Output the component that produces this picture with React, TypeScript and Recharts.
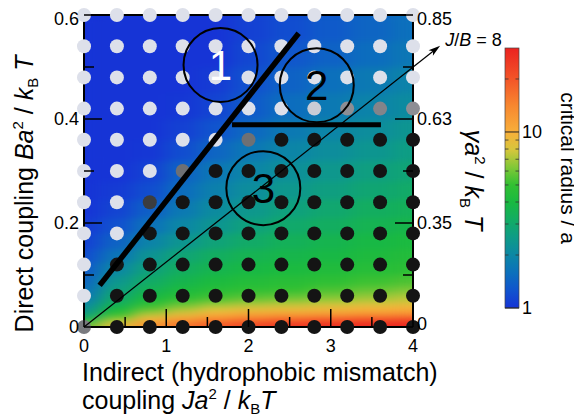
import React from 'react';
import { ScatterChart, Scatter, XAxis, YAxis, ReferenceLine, ReferenceDot, Legend } from 'recharts';

const FONT = '"Liberation Sans", Arial, Helvetica, sans-serif';

// ---------- layout ----------
const CHART_W = 574;
const CHART_H = 409;
const MARGIN = { top: 7, right: 109, bottom: 30, left: 0 };
const LEFT_AXIS_W = 76;
const RIGHT_AXIS_W = 60;
const BOTTOM_AXIS_H = 60;
const J_DOMAIN: [number, number] = [0, 4];
const B_DOMAIN: [number, number] = [0, 0.6];
const PLOT_W = CHART_W - MARGIN.left - MARGIN.right - LEFT_AXIS_W - RIGHT_AXIS_W;
const PLOT_H = CHART_H - MARGIN.top - MARGIN.bottom - BOTTOM_AXIS_H;
const PX_PER_J = PLOT_W / (J_DOMAIN[1] - J_DOMAIN[0]);
const PX_PER_B = PLOT_H / (B_DOMAIN[1] - B_DOMAIN[0]);

// ---------- ticks ----------
const xMajorTicks = [0, 1, 2, 3, 4];
const xTickLabels = ['0', '1', '2', '3', '4'];
const xMinorTicks = [0.5, 1.5, 2.5, 3.5];
const yMajorTicks = [0, 0.2, 0.4, 0.6];
const yTickLabels = ['0', '0.2', '0.4', '0.6'];
const yMinorTicks = [0.1, 0.3, 0.5];
const gammaTickLabels = ['0', '0.35', '0.63', '0.85'];

// ---------- simulation points (J, B) and their order state ----------
const simJ = [0, 0.4, 0.8, 1.2, 1.6, 2.0, 2.4, 2.8, 3.2, 3.6, 4.0];
const simB = [0, 0.06, 0.12, 0.18, 0.24, 0.3, 0.36, 0.42, 0.48, 0.54, 0.6];
// 0 = disordered (light), 1 = clustered (dark); rows from B = 0 upward
const orderRows = [
  [0.5, 1, 1, 1, 1, 1, 1, 1, 1, 1, 1],
  [0, 1, 1, 1, 1, 1, 1, 1, 1, 1, 1],
  [0, 1, 1, 1, 1, 1, 1, 1, 1, 1, 1],
  [0, 0, 1, 1, 1, 1, 1, 1, 1, 1, 1],
  [0, 0, 0.8, 1, 1, 1, 1, 1, 1, 1, 1],
  [0, 0, 0, 0.55, 1, 1, 1, 1, 1, 1, 1],
  [0, 0, 0, 0, 0, 0.55, 1, 1, 1, 1, 1],
  [0, 0, 0, 0, 0, 0, 0, 0.1, 0.4, 0.45, 0.4],
  [0, 0, 0, 0, 0, 0, 0, 0, 0, 0, 0],
  [0, 0, 0, 0, 0, 0, 0, 0, 0, 0, 0],
  [0, 0, 0, 0, 0, 0, 0, 0, 0, 0, 0],
];

// ---------- critical radius field ----------
const heatJEdges = [0, 0.2, 0.6, 1.0, 1.4, 1.8, 2.25, 2.75, 3.25, 3.75, 4];
const heatBEdges = [0, 0.01, 0.02, 0.03, 0.04, 0.05, 0.065, 0.08, 0.1, 0.125, 0.15, 0.18, 0.21, 0.245, 0.28, 0.32, 0.36, 0.4, 0.45, 0.5, 0.55, 0.6];
// rows from B = 0 upward, columns along J
const heatRadius = [
  [6.03, 8.91, 12.6, 16.6, 20.0, 23.4, 26.3, 28.2, 29.5, 30.2],
  [3.55, 6.76, 9.77, 12.0, 14.1, 15.8, 17.4, 18.6, 20.0, 21.4],
  [2.63, 5.01, 7.24, 8.71, 10.0, 11.0, 11.5, 12.0, 12.6, 13.2],
  [2.24, 3.98, 5.62, 6.92, 7.94, 8.51, 8.91, 9.33, 9.77, 10.2],
  [2.0, 3.39, 4.79, 5.75, 6.61, 7.08, 7.41, 7.76, 8.13, 8.51],
  [1.74, 2.95, 3.98, 4.68, 5.25, 5.62, 5.89, 6.31, 6.76, 7.24],
  [1.58, 2.63, 3.47, 4.07, 4.47, 4.79, 5.01, 5.37, 5.75, 6.17],
  [1.45, 2.34, 3.09, 3.63, 4.07, 4.37, 4.57, 4.79, 5.13, 5.37],
  [1.32, 2.0, 2.69, 3.24, 3.63, 3.89, 4.07, 4.27, 4.47, 4.68],
  [1.2, 1.66, 2.29, 2.82, 3.24, 3.55, 3.72, 3.89, 4.17, 4.37],
  [1.1, 1.41, 1.91, 2.34, 2.75, 3.09, 3.39, 3.63, 3.89, 4.07],
  [1.05, 1.23, 1.62, 2.0, 2.34, 2.69, 3.02, 3.24, 3.55, 3.72],
  [1.0, 1.12, 1.38, 1.74, 2.09, 2.4, 2.69, 2.95, 3.24, 3.39],
  [1.0, 1.05, 1.2, 1.55, 1.86, 2.14, 2.4, 2.63, 2.88, 3.09],
  [1.0, 1.0, 1.1, 1.41, 1.7, 1.95, 2.19, 2.4, 2.63, 2.82],
  [1.0, 1.0, 1.02, 1.2, 1.45, 1.7, 1.95, 2.14, 2.34, 2.57],
  [1.0, 1.0, 1.0, 1.1, 1.26, 1.48, 1.74, 1.95, 2.14, 2.34],
  [1.0, 1.0, 1.0, 1.02, 1.12, 1.32, 1.55, 1.74, 1.91, 2.09],
  [1.0, 1.0, 1.0, 1.0, 1.05, 1.23, 1.41, 1.58, 1.74, 1.91],
  [1.0, 1.0, 1.0, 1.0, 1.0, 1.15, 1.29, 1.41, 1.55, 1.7],
  [1.0, 1.0, 1.0, 1.0, 1.0, 1.1, 1.2, 1.32, 1.45, 1.58],
];

// ---------- colour bar ----------
const cbMax = 30;
const cbMajor = [1, 10];
const cbLabels = ['1', '10'];
const cbMinor = [2, 3, 4, 5, 6, 7, 8, 9, 20];
const cbTitle = 'critical radius / a';

// ---------- annotations ----------
const regionNames = ['1', '2', '3'];
const regionJ = [1.66, 2.83, 2.18];
const regionB = [0.504, 0.465, 0.267];
const boundaryDiagJ = [0.19, 2.61];
const boundaryDiagB = [0.08, 0.565];
const boundaryFlatJ = [1.8, 3.61];
const boundaryFlatB = [0.389, 0.389];
const ratioLineJ = [0, 4.33];
const ratioLineB = [0, 0.541];

// ---------- styling helpers ----------
const CMAP: [number, number[]][] = [
  [0.0, [22, 52, 214]],
  [0.1, [16, 84, 206]],
  [0.2, [12, 112, 188]],
  [0.3, [12, 135, 165]],
  [0.4, [14, 155, 135]],
  [0.5, [18, 172, 100]],
  [0.6, [25, 185, 65]],
  [0.7, [50, 192, 50]],
  [0.8, [130, 200, 55]],
  [0.9, [215, 198, 60]],
  [1.0, [248, 175, 58]],
  [1.15, [247, 135, 48]],
  [1.3, [243, 85, 40]],
  [1.48, [235, 35, 32]],
];
const LMAX = Math.log10(cbMax);
function radiusColor(r: number) {
  const L = Math.log10(r);
  if (L <= CMAP[0][0]) return `rgb(${CMAP[0][1].join(',')})`;
  for (let i = 0; i < CMAP.length - 1; i++) {
    const [a, ca] = CMAP[i];
    const [b, cb] = CMAP[i + 1];
    if (L <= b) {
      const t = (L - a) / (b - a);
      const c = ca.map((v, k) => Math.round(v + (cb[k] - v) * t));
      return `rgb(${c.join(',')})`;
    }
  }
  return `rgb(${CMAP[CMAP.length - 1][1].join(',')})`;
}
const LIGHT = [221, 224, 234];
const DARK = [20, 20, 20];
function orderColor(p: number) {
  const c = LIGHT.map((v, k) => Math.round(v + (DARK[k] - v) * p));
  return `rgb(${c.join(',')})`;
}

// ---------- derived datasets ----------
const heatCells: any[] = [];
for (let i = 0; i < heatBEdges.length - 1; i++) {
  for (let k = 0; k < heatJEdges.length - 1; k++) {
    const j0 = heatJEdges[k], j1 = heatJEdges[k + 1];
    const b0 = heatBEdges[i], b1 = heatBEdges[i + 1];
    heatCells.push({ x: (j0 + j1) / 2, y: (b0 + b1) / 2, j0, j1, b0, b1, r: heatRadius[i][k] });
  }
}
const simPoints = simB.flatMap((b, i) => simJ.map((j, k) => ({ x: j, y: b, order: orderRows[i][k] })));

// ---------- shapes ----------
const HeatCell = (p: any) => {
  const d = p.payload;
  const x = p.cx - (d.x - d.j0) * PX_PER_J;
  const w = (d.j1 - d.j0) * PX_PER_J;
  const y = p.cy - (d.b1 - d.y) * PX_PER_B;
  const h = (d.b1 - d.b0) * PX_PER_B;
  return <rect className="heat-cell" x={x - 0.3} y={y - 0.3} width={w + 0.6} height={h + 0.6} fill={radiusColor(d.r)} />;
};
const SimDot = (p: any) => <circle cx={p.cx} cy={p.cy} r={7} fill={orderColor(p.payload.order)} />;

const ArrowShape = (p: any) => {
  const { x1, y1, x2, y2 } = p;
  const ang = Math.atan2(y2 - y1, x2 - x1);
  const len = 12, half = 3.5;
  const cos = Math.cos(ang), sin = Math.sin(ang);
  const bx = x2 - len * cos, by = y2 - len * sin;
  const nx = -sin * half, ny = cos * half;
  const ix = x2 - len * 0.75 * cos, iy = y2 - len * 0.75 * sin;
  return (
    <g>
      <line x1={x1} y1={y1} x2={ix} y2={iy} stroke="#000" strokeWidth={1.2} />
      <path d={`M${x2},${y2} L${bx + nx},${by + ny} L${ix},${iy} L${bx - nx},${by - ny} Z`} fill="#000" />
      <text x={x2 + 5} y={y2 + 0.5} fontSize={18} fontFamily={FONT} fill="#000">
        <tspan fontStyle="italic">J</tspan>/<tspan fontStyle="italic">B</tspan>{' = 8'}
      </text>
    </g>
  );
};

// ---------- ticks ----------
const isIn = (arr: number[], v: number) => arr.findIndex((a) => Math.abs(a - v) < 1e-9);
const BottomTick = (p: any) => {
  const i = isIn(xMajorTicks, p.payload.value);
  const len = i >= 0 ? 18 : 10;
  return (
    <g>
      <line x1={p.x} y1={p.y} x2={p.x} y2={p.y - len} stroke="#000" strokeWidth={1.5} />
      {i >= 0 && (
        <text x={p.x} y={p.y + 25} textAnchor="middle" fontSize={18} fontFamily={FONT} fill="#000">{xTickLabels[i]}</text>
      )}
    </g>
  );
};
const TopTick = (p: any) => {
  const i = isIn(xMajorTicks, p.payload.value);
  const len = i >= 0 ? 18 : 10;
  return <line x1={p.x} y1={p.y} x2={p.x} y2={p.y + len} stroke="#000" strokeWidth={1.5} />;
};
const topShift = (i: number) => (i === yMajorTicks.length - 1 ? 4 : 0);
const LeftTick = (p: any) => {
  const i = isIn(yMajorTicks, p.payload.value);
  const len = i >= 0 ? 18 : 10;
  return (
    <g>
      <line x1={p.x} y1={p.y} x2={p.x + len} y2={p.y} stroke="#000" strokeWidth={1.5} />
      {i >= 0 && (
        <text x={p.x - 5} y={p.y + topShift(i)} dy="0.36em" textAnchor="end" fontSize={18} fontFamily={FONT} fill="#000">{yTickLabels[i]}</text>
      )}
    </g>
  );
};
const RightTick = (p: any) => {
  const i = isIn(yMajorTicks, p.payload.value);
  const len = i >= 0 ? 18 : 10;
  return (
    <g>
      <line x1={p.x} y1={p.y} x2={p.x - len} y2={p.y} stroke="#000" strokeWidth={1.5} />
      {i >= 0 && (
        <text x={p.x + 4} y={p.y + topShift(i) - (i === 0 ? 3 : 0)} dy="0.36em" textAnchor="start" fontSize={18} fontFamily={FONT} fill="#000">{gammaTickLabels[i]}</text>
      )}
    </g>
  );
};

// ---------- axis labels ----------
const SUP = 15;
const LeftLabel = () => {
  const cx = MARGIN.left + 25;
  const cy = MARGIN.top + PLOT_H / 2 + 23;
  return (
    <text transform={`translate(${cx},${cy}) rotate(-90)`} textAnchor="middle" fontSize={25} fontFamily={FONT} fill="#000">
      {'Direct coupling '}
      <tspan fontStyle="italic">Ba</tspan>
      <tspan dy={-10} fontSize={SUP}>2</tspan>
      <tspan dy={10}>{' / '}</tspan>
      <tspan fontStyle="italic">k</tspan>
      <tspan dy={5} fontSize={SUP}>B</tspan>
      <tspan dy={-5} fontStyle="italic">{' T'}</tspan>
    </text>
  );
};
const BottomLabel = () => {
  const x = MARGIN.left + LEFT_AXIS_W - 2;
  const y0 = MARGIN.top + PLOT_H;
  return (
    <g>
      <text x={x} y={y0 + 54} fontSize={25} fontFamily={FONT} fill="#000">Indirect (hydrophobic mismatch)</text>
      <text x={x} y={y0 + 82} fontSize={25} fontFamily={FONT} fill="#000">
        {'coupling '}
        <tspan fontStyle="italic">Ja</tspan>
        <tspan dy={-10} fontSize={SUP}>2</tspan>
        <tspan dy={10}>{' / '}</tspan>
        <tspan fontStyle="italic">k</tspan>
        <tspan dy={5} fontSize={SUP}>B</tspan>
        <tspan dy={-5} fontStyle="italic">T</tspan>
      </text>
    </g>
  );
};
const RightLabel = () => {
  const cx = MARGIN.left + LEFT_AXIS_W + PLOT_W + 52;
  const cy = MARGIN.top + PLOT_H / 2 + 9;
  return (
    <text transform={`translate(${cx},${cy}) rotate(90)`} textAnchor="middle" fontSize={25} fontFamily={FONT} fill="#000">
      <tspan fontStyle="italic">γa</tspan>
      <tspan dy={-10} fontSize={SUP}>2</tspan>
      <tspan dy={10}>{' / '}</tspan>
      <tspan fontStyle="italic">k</tspan>
      <tspan dy={5} fontSize={SUP}>B</tspan>
      <tspan dy={-5} fontStyle="italic">{' T'}</tspan>
    </text>
  );
};

// ---------- colour bar legend ----------
const ColorBar = () => {
  const bx = 17, by = 10, bw = 14, bh = 260;
  const yOf = (r: number) => by + bh - (Math.log10(r) / LMAX) * bh;
  return (
    <svg width={94} height={300} style={{ display: 'block', overflow: 'visible' }}>
      <defs>
        <linearGradient id="cbGrad" x1="0" y1="1" x2="0" y2="0">
          {CMAP.map(([L, c]) => (
            <stop key={L} offset={Math.min(1, L / LMAX)} stopColor={`rgb(${c.join(',')})`} />
          ))}
        </linearGradient>
      </defs>
      <rect x={bx} y={by} width={bw} height={bh} fill="url(#cbGrad)" stroke="#444" strokeWidth={0.7} />
      {cbMinor.map((r) => (
        <g key={r}>
          <line x1={bx} x2={bx + 3.5} y1={yOf(r)} y2={yOf(r)} stroke="#333" strokeWidth={0.8} />
          <line x1={bx + bw - 3.5} x2={bx + bw} y1={yOf(r)} y2={yOf(r)} stroke="#333" strokeWidth={0.8} />
        </g>
      ))}
      {cbMajor.map((r, i) => (
        <g key={r}>
          <line x1={bx} x2={bx + bw} y1={yOf(r)} y2={yOf(r)} stroke="#222" strokeWidth={1} />
          <text x={bx + bw + 3} y={yOf(r)} dy="0.36em" fontSize={18} fontFamily={FONT} fill="#000">{cbLabels[i]}</text>
        </g>
      ))}
      <text transform="translate(73,130) rotate(90)" textAnchor="middle" fontSize={21} fontFamily={FONT} fill="#000">{cbTitle}</text>
    </svg>
  );
};

const css = `
.heat-layer, .recharts-scatter:has(.heat-cell) { filter: url(#heatBlur); }
`;

const xAllTicks = [...xMajorTicks, ...xMinorTicks].sort((a, b) => a - b);
const yAllTicks = [...yMajorTicks, ...yMinorTicks].sort((a, b) => a - b);

export default function App() {
  return (
    <div style={{ position: 'relative', width: CHART_W, height: CHART_H, fontFamily: FONT }}>
      <style>{css}</style>
      <svg width={0} height={0} style={{ position: 'absolute' }}>
        <defs>
          <filter id="heatBlur" x="0" y="0" width="1" height="1" colorInterpolationFilters="sRGB">
            <feGaussianBlur stdDeviation="9 3" />
            <feComponentTransfer>
              <feFuncA type="table" tableValues="1 1" />
            </feComponentTransfer>
          </filter>
        </defs>
      </svg>
      <ScatterChart width={CHART_W} height={CHART_H} margin={MARGIN} style={{ fontFamily: FONT }}>
        <Scatter data={heatCells} shape={HeatCell} className="heat-layer" isAnimationActive={false} legendType="none" zIndex={40} />
        <XAxis
          type="number"
          dataKey="x"
          domain={J_DOMAIN}
          ticks={xAllTicks}
          interval={0}
          tick={BottomTick}
          tickLine={false}
          tickSize={0}
          tickMargin={0}
          axisLine={{ stroke: '#000', strokeWidth: 2 }}
          height={BOTTOM_AXIS_H}
          label={<BottomLabel />}
        />
        <XAxis
          xAxisId="top"
          orientation="top"
          mirror
          type="number"
          domain={J_DOMAIN}
          allowDataOverflow
          ticks={xAllTicks}
          interval={0}
          tick={TopTick}
          tickLine={false}
          tickSize={0}
          tickMargin={0}
          axisLine={{ stroke: '#000', strokeWidth: 2 }}
        />
        <YAxis
          type="number"
          dataKey="y"
          domain={B_DOMAIN}
          ticks={yAllTicks}
          interval={0}
          tick={LeftTick}
          tickLine={false}
          tickSize={0}
          tickMargin={0}
          axisLine={{ stroke: '#000', strokeWidth: 2 }}
          width={LEFT_AXIS_W}
          label={<LeftLabel />}
        />
        <YAxis
          yAxisId="right"
          orientation="right"
          type="number"
          domain={B_DOMAIN}
          allowDataOverflow
          ticks={yAllTicks}
          interval={0}
          tick={RightTick}
          tickLine={false}
          tickSize={0}
          tickMargin={0}
          axisLine={{ stroke: '#000', strokeWidth: 2 }}
          width={RIGHT_AXIS_W}
          label={<RightLabel />}
        />
        <Scatter data={simPoints} shape={SimDot} isAnimationActive={false} legendType="none" zIndex={600} />
        <ReferenceLine
          segment={[{ x: boundaryDiagJ[0], y: boundaryDiagB[0] }, { x: boundaryDiagJ[1], y: boundaryDiagB[1] }]}
          stroke="#000"
          strokeWidth={5.5}
          ifOverflow="visible"
          zIndex={700}
        />
        <ReferenceLine
          segment={[{ x: boundaryFlatJ[0], y: boundaryFlatB[0] }, { x: boundaryFlatJ[1], y: boundaryFlatB[1] }]}
          stroke="#000"
          strokeWidth={5}
          ifOverflow="visible"
          zIndex={700}
        />
        <ReferenceLine
          segment={[{ x: ratioLineJ[0], y: ratioLineB[0] }, { x: ratioLineJ[1], y: ratioLineB[1] }]}
          ifOverflow="visible"
          shape={ArrowShape}
          zIndex={700}
        />
        {regionNames.map((name, i) => (
          <ReferenceDot
            key={name}
            x={regionJ[i]}
            y={regionB[i]}
            r={37}
            fill="none"
            stroke="#000"
            strokeWidth={2}
            ifOverflow="visible"
            zIndex={700}
            label={{ value: name, position: 'center', fill: i === 0 ? '#fff' : '#000', fontSize: 42, fontFamily: FONT }}
          />
        ))}
        <Legend
          content={ColorBar}
          layout="horizontal"
          verticalAlign="middle"
          align="center"
          wrapperStyle={{ left: 480, top: 30, width: 94, height: 300 }}
        />
      </ScatterChart>
    </div>
  );
}
